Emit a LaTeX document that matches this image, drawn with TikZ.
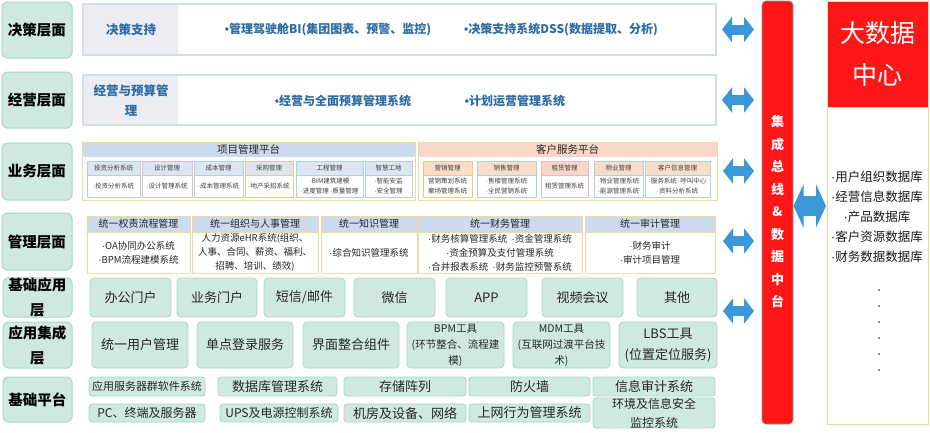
\documentclass[tikz,border=0pt]{standalone}
\usepackage{fontspec}
\setmainfont{Noto Sans CJK SC}
\newfontfamily\latf{Liberation Sans}
\newcommand\mydot{{\latf ·}}
\newcommand\mybul{{\latf •}}
\usetikzlibrary{arrows.meta}
\definecolor{labfill}{HTML}{CFE9E1}
\definecolor{labdraw}{HTML}{A6D7C7}
\definecolor{rowdraw}{HTML}{D2DFE7}
\definecolor{grayfill}{HTML}{EBEDF2}
\definecolor{bluetxt}{HTML}{2F6CA3}
\definecolor{tanc}{HTML}{EFDBA0}
\definecolor{bluehead}{HTML}{CBDAEE}
\definecolor{pinkhead}{HTML}{F8D6C8}
\definecolor{subteal}{HTML}{A9D6D9}
\definecolor{subpink}{HTML}{E6B9CB}
\definecolor{subtan}{HTML}{EBCB8A}
\definecolor{subhead}{HTML}{DCE5F1}
\definecolor{peach}{HTML}{FADCCB}
\definecolor{arrowblue}{HTML}{3A98D8}
\definecolor{busred}{HTML}{FF1717}
\definecolor{dcdraw}{HTML}{E8D69E}
\definecolor{dotblue}{HTML}{2E6DA4}
\newcommand\bx[7]{\node[#6,minimum width={(#4)-(#2)},minimum height={(#5)-(#3)}] (#1) at ({((#2)+(#4))/2},{((#3)+(#5))/2}) {#7};}
\newcommand\sub[9]{%
 \bx{#1}{#2}{#4}{#3}{#6}{subbox,bd#7}{}%
 \bx{#1h}{#2}{#4}{#3}{#5}{subhd,bd#7,hd#7}{#8}%
 \node[subtxt] (#1b) at ({((#2)+(#3))/2},{((#5)+(#6))/2}) {#9};}
\tikzset{
 every node/.style={inner sep=0pt, outer sep=0pt},
 lab/.style={draw=labdraw, fill=labfill, rounded corners=5pt, line width=1pt, align=center, font=\fontsize{14.5}{25}\selectfont\bfseries},
 rowbox/.style={draw=rowdraw, line width=1.5pt, fill=white},
 grayhead/.style={fill=grayfill, align=center, text=bluetxt, font=\fontsize{12.5}{20}\selectfont\bfseries},
 rowtxt/.style={text=bluetxt, font=\fontsize{12}{14}\selectfont\bfseries},
 plat/.style={draw=tanc, line width=1pt, fill=white},
 phd/.style={font=\fontsize{10.5}{12}\selectfont, text=black!85},
 subbox/.style={line width=0.8pt, fill=white},
 subhd/.style={line width=0.8pt, font=\fontsize{6.5}{8}\selectfont, text=black!75},
 subtxt/.style={align=center, font=\fontsize{6.5}{10}\selectfont, text=black!75},
 bdA/.style={draw=subteal}, hdA/.style={fill=subhead},
 bdB/.style={draw=subpink}, hdB/.style={fill=subhead},
 bdC/.style={draw=subtan}, hdC/.style={fill=subhead},
 bdD/.style={draw=subtan}, hdD/.style={fill=peach},
 bdE/.style={draw=subteal}, hdE/.style={fill=peach},
 bdF/.style={draw=subpink}, hdF/.style={fill=pinkhead},
 bdG/.style={draw=tanc}, hdG/.style={fill=bluehead},
 tbox/.style={draw=labdraw, fill=labfill, rounded corners=4pt, line width=0.8pt, align=center, text=black!85},
 busst/.style={draw=black!45, fill=busred, line width=0.6pt, rounded corners=4pt},
 bustxt/.style={text=white, align=center, font=\fontsize{13}{22.5}\selectfont\bfseries},
 dcst/.style={draw=dcdraw, line width=0.8pt, fill=white},
 dchead/.style={fill=busred, draw=dcdraw, line width=0.8pt, text=white, align=center, font=\fontsize{25}{42}\selectfont},
 dclist/.style={align=center, text=black!90, font=\fontsize{12.5}{20}\selectfont},
 dbl/.style={draw=arrowblue, line width=10pt, {Triangle[width=25pt,length=10pt]}-{Triangle[width=25pt,length=10pt]}, shorten <=6pt, shorten >=8pt},
 bigdbl/.style={draw=arrowblue, line width=20pt, {Triangle[width=43pt,length=10pt]}-{Triangle[width=43pt,length=10pt]}, shorten <=0.5pt, shorten >=1pt}
}
\begin{document}
\begin{tikzpicture}[x=1pt,y=-1pt]
\useasboundingbox (0,0) rectangle (930,432);
% left labels
\bx{L1}{2}{2}{72}{58}{lab}{决策层面}
\bx{L2}{2}{72}{72}{128}{lab}{经营层面}
\bx{L3}{2}{143}{72}{200}{lab}{业务层面}
\bx{L4}{2}{213}{72}{270}{lab}{管理层面}
\bx{L5}{3}{278}{72}{317}{lab}{基础应用\\层}
\bx{L6}{3}{322}{72}{368}{lab}{应用集成\\层}
\bx{L7}{3}{377}{72}{422}{lab}{基础平台}
% row 1
\bx{R1}{83}{4}{716}{55}{rowbox}{}
\bx{R1a}{84}{5}{178}{54}{grayhead}{决策支持}
\node[rowtxt] (R1b) at (328,30) {\mybul 管理驾驶舱BI(集团图表、预警、监控)};
\node[rowtxt] (R1c) at (561,30) {\mybul 决策支持系统DSS(数据提取、分析)};
% row 2
\bx{R2}{83}{75}{716}{125}{rowbox}{}
\bx{R2a}{84}{76}{178}{124}{grayhead}{经营与预算管\\理}
\node[rowtxt] (R2b) at (343,101) {\mybul 经营与全面预算管理系统};
\node[rowtxt] (R2c) at (515,101) {\mybul 计划运营管理系统};
% row 3 platforms
\bx{P1}{82}{142}{415}{200}{plat}{}
\bx{P1h}{82.5}{142.5}{414.5}{157}{phd,fill=bluehead}{项目管理平台}
\bx{P2}{418}{142}{717}{200}{plat}{}
\bx{P2h}{418.5}{142.5}{716.5}{157}{phd,fill=pinkhead}{客户服务平台}
\sub{s1}{87}{140}{161}{175}{197}{A}{投资分析系统}{\mydot 投资分析系统}
\sub{s2}{142}{192}{161}{175}{197}{B}{设计管理}{\mydot 设计管理系统}
\sub{s3}{194}{243}{161}{175}{197}{A}{成本管理}{\mydot 成本管理系统}
\sub{s4}{245}{293}{161}{175}{197}{C}{采购管理}{\mydot 地产采招系统}
\sub{s5}{296}{363}{161}{175}{197}{A}{工程管理}{\mydot BIM建筑建模\\\mydot 进度管理 \mydot 质量管理}
\sub{s6}{365}{412}{161}{175}{197}{A}{智慧工地}{\mydot 智能安监\\\mydot 安全管理}
\sub{c1}{423}{472}{161}{175}{197}{D}{营销管理}{营销策划系统\\案场管理系统}
\sub{c2}{477}{536}{161}{175}{197}{E}{销售管理}{\mydot 售楼管理系统\\\mydot 全民营销系统}
\sub{c3}{541}{588}{161}{175}{197}{F}{租赁管理}{租赁管理系统}
\sub{c4}{594}{643}{161}{175}{197}{E}{物业管理}{\mydot 物业管理系统\\\mydot 能源管理系统}
\sub{c5}{645}{710}{161}{175}{197}{E}{客户信息管理}{\mydot 服务系统 \mydot 呼叫中心\\\mydot 资料分析系统}
% row 4 management
\begin{scope}[subbox/.append style={line width=1pt}, subhd/.append style={line width=1pt, font=\fontsize{10}{12}\selectfont, text=black!85}, subtxt/.append style={font=\fontsize{9.5}{14}\selectfont, text=black!85}]
\sub{m1}{87}{190}{216}{232}{273}{G}{统一权责流程管理}{\mydot OA协同办公系统\\\mydot BPM流程建模系统}
\sub{m2}{192}{318}{216}{232}{273}{G}{统一组织与人事管理}{人力资源eHR系统(组织、\\人事、合同、薪资、福利、\\招聘、培训、绩效)}
\sub{m3}{321}{417}{216}{232}{273}{G}{统一知识管理}{\mydot 综合知识管理系统}
\sub{m4}{418}{582}{216}{232}{273}{G}{统一财务管理}{\mydot 财务核算管理系统\ \ \mydot 资金管理系统\\\mydot 资金预算及支付管理系统\\\mydot 合并报表系统\ \ \mydot 财务监控预警系统}
\sub{m5}{585}{715}{216}{232}{273}{G}{统一审计管理}{\mydot 财务审计\\\mydot 审计项目管理}
\end{scope}
% row 5
\begin{scope}[tbox/.append style={font=\fontsize{13}{16}\selectfont}]
\bx{a1}{90}{278}{171}{317}{tbox}{办公门户}
\bx{a2}{177}{278}{257}{317}{tbox}{业务门户}
\bx{a3}{264}{278}{345}{317}{tbox}{短信/邮件}
\bx{a4}{354}{278}{435}{317}{tbox}{微信}
\bx{a5}{446}{278}{527}{317}{tbox}{APP}
\bx{a6}{542}{278}{623}{317}{tbox}{视频会议}
\bx{a7}{637}{278}{717}{317}{tbox}{其他}
% row 6
\bx{i1}{92}{322}{188}{368}{tbox}{统一用户管理}
\bx{i2}{197}{322}{293}{368}{tbox}{单点登录服务}
\bx{i3}{303}{322}{399}{368}{tbox}{界面整合组件}
\bx{i4}{407}{322}{504}{368}{tbox,font=\fontsize{10.5}{16}\selectfont}{BPM工具\\(环节整合、流程建\\模)}
\bx{i5}{513}{322}{610}{368}{tbox,font=\fontsize{10.5}{16}\selectfont}{MDM工具\\(互联网过渡平台技\\术)}
\bx{i6}{619}{322}{717}{368}{tbox,font=\fontsize{13}{21}\selectfont}{LBS工具\\(位置定位服务)}
\end{scope}
% row 7
\begin{scope}[tbox/.append style={rounded corners=3pt, font=\fontsize{13}{16}\selectfont}]
\bx{b1}{89}{377}{205}{396}{tbox,font=\fontsize{11}{13}\selectfont}{应用服务器群软件系统}
\bx{b2}{218}{377}{337}{396}{tbox}{数据库管理系统}
\bx{b3}{344}{377}{466}{396}{tbox}{存储阵列}
\bx{b4}{469}{377}{590}{396}{tbox}{防火墙}
\bx{b5}{593}{377}{715}{396}{tbox}{信息审计系统}
\bx{b6}{89}{404}{205}{422}{tbox,font=\fontsize{12}{14}\selectfont}{PC、终端及服务器}
\bx{b7}{220}{404}{338}{422}{tbox,font=\fontsize{12}{14}\selectfont}{UPS及电源控制系统}
\bx{b8}{344}{404}{466}{422}{tbox}{机房及设备、网络}
\bx{b9}{469}{404}{590}{422}{tbox}{上网行为管理系统}
\bx{b10}{593}{404}{715}{422}{tbox,font=\fontsize{12}{19}\selectfont}{环境及信息安全\\监控系统}
\end{scope}
% bus
\bx{bus}{762}{1}{793}{424}{busst}{}
\node[bustxt] (bust) at (777.5,212) {集\\成\\总\\线\\\&\\数\\据\\中\\台};
% data center
\bx{dc}{827}{1}{928}{424}{dcst}{}
\bx{dch}{827}{1}{928}{107}{dchead}{大数据\\中心}
\node[dclist] (dcl) at (877,217) {\mydot 用户组织数据库\\\mydot 经营信息数据库\\\mydot 产品数据库\\\mydot 客户资源数据库\\\mydot 财务数据数据库};
\foreach \yy in {290,306,322,338,354,370} \fill[dotblue] (879,\yy) circle (1.2);
% arrows
\draw[dbl] (R1.east) -- (R1.east -| bus.west);
\draw[dbl] (R2.east) -- (R2.east -| bus.west);
\draw[dbl] (P2.east) -- (P2.east -| bus.west);
\coordinate (c4) at (717,241);
\draw[dbl] (c4) -- (c4 -| bus.west);
\coordinate (c5) at (717,311);
\draw[dbl] (c5) -- (c5 -| bus.west);
\coordinate (c8) at (793,206);
\draw[bigdbl] (c8) -- (c8 -| dc.west);
\end{tikzpicture}
\end{document}
